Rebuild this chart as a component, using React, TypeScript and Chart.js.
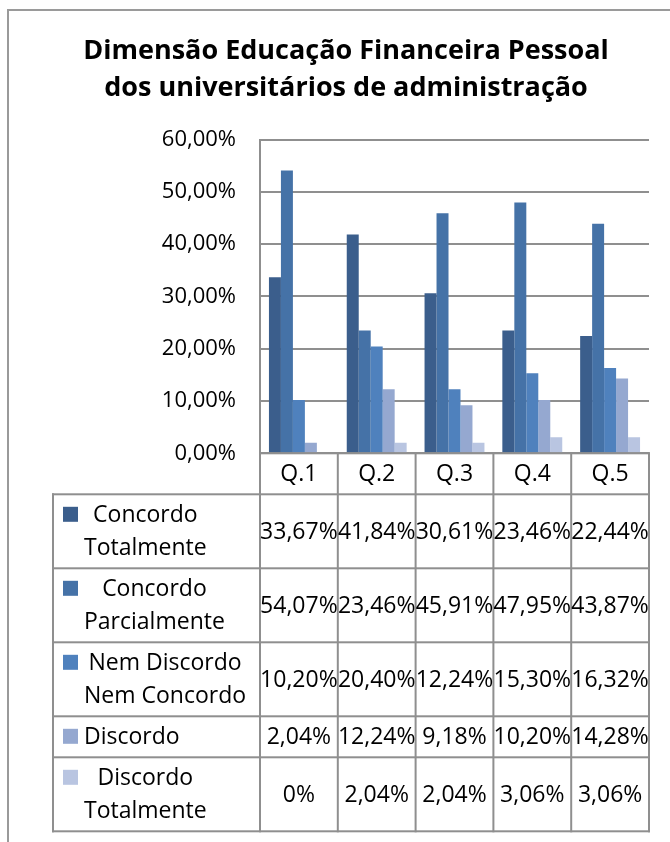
import React, { useEffect, useRef } from 'react';
import { Chart, registerables } from 'chart.js';

Chart.register(...registerables);

const titleLines = ['Dimensão Educação Financeira Pessoal', 'dos universitários de administração'];
const categories = ['Q.1', 'Q.2', 'Q.3', 'Q.4', 'Q.5'];
const seriesLabels = [
  ['Concordo', 'Totalmente'],
  ['Concordo', 'Parcialmente'],
  ['Nem Discordo', 'Nem Concordo'],
  ['Discordo'],
  ['Discordo', 'Totalmente'],
];
const concordoTotalmente = [33.67, 41.84, 30.61, 23.46, 22.44];
const concordoParcialmente = [54.07, 23.46, 45.91, 47.95, 43.87];
const nemDiscordoNemConcordo = [10.2, 20.4, 12.24, 15.3, 16.32];
const discordo = [2.04, 12.24, 9.18, 10.2, 14.28];
const discordoTotalmente = [0, 2.04, 2.04, 3.06, 3.06];
const seriesValues = [concordoTotalmente, concordoParcialmente, nemDiscordoNemConcordo, discordo, discordoTotalmente];
const seriesColors = ['#3B5E8C', '#4572A7', '#4F81BD', '#95A8D0', '#B9C5E1'];
const yMax = 60;
const yStep = 10;

const FONT = '"Open Sans", sans-serif';
const LINE = '#8f8f8f';

const fmtTick = (v: number) => v.toFixed(2).replace('.', ',') + '%';
const fmtCell = (v: number) => (v === 0 ? '0%' : v.toFixed(2).replace('.', ',') + '%');

const tablePlugin = {
  id: 'dataTable',
  afterDraw(chart: any) {
    const ctx: CanvasRenderingContext2D = chart.ctx;
    const xs = chart.scales.x;
    const ys = chart.scales.y;
    const n = categories.length;
    const left = xs.left;
    const right = xs.right;
    const cw = (right - left) / n;
    const bounds: number[] = [];
    for (let i = 0; i <= n; i++) bounds.push(left + i * cw);
    const zeroY = ys.getPixelForValue(0);
    const tableLeft = 53;
    const headerH = 41;
    const lineH = 33;
    const rowTops: number[] = [zeroY, zeroY + headerH];
    seriesLabels.forEach((lbl) => {
      const h = lbl.length === 1 ? 41 : 74;
      rowTops.push(rowTops[rowTops.length - 1] + h);
    });
    const bottom = rowTops[rowTops.length - 1];

    ctx.save();
    // frame
    ctx.fillStyle = '#9a9a9a';
    ctx.fillRect(7, 10, 2, chart.height - 10);
    ctx.fillRect(7, 9, chart.width - 7, 2);

    // title
    ctx.fillStyle = '#000';
    ctx.textAlign = 'center';
    ctx.textBaseline = 'middle';
    ctx.font = `bold 27px ${FONT}`;
    ctx.fillText(titleLines[0], 346, 51);
    ctx.fillText(titleLines[1], 346, 88);

    // table lines
    ctx.fillStyle = LINE;
    ctx.fillRect(left - 1, zeroY - 1, right - left + 2, 2);
    for (let r = 1; r < rowTops.length; r++) {
      ctx.fillRect(tableLeft - 1, rowTops[r] - 1, right - tableLeft + 2, 2);
    }
    ctx.fillRect(tableLeft - 1, rowTops[1] - 1, 2, bottom - rowTops[1] + 2);
    bounds.forEach((bx) => {
      ctx.fillRect(bx - 1, zeroY - 1, 2, bottom - zeroY + 2);
    });

    // header labels
    ctx.fillStyle = '#000';
    ctx.font = `23px ${FONT}`;
    ctx.textAlign = 'center';
    ctx.textBaseline = 'middle';
    categories.forEach((c, i) => {
      ctx.fillText(c, left + (i + 0.5) * cw, zeroY + headerH / 2 + 1);
    });

    // rows
    seriesLabels.forEach((lbl, r) => {
      const top = rowTops[r + 1];
      const bot = rowTops[r + 2];
      const cy = (top + bot) / 2;
      const firstY = cy - ((lbl.length - 1) * lineH) / 2;
      ctx.fillStyle = seriesColors[r];
      ctx.fillRect(63, firstY - 8, 15, 15);
      ctx.fillStyle = '#000';
      const widths = lbl.map((t) => ctx.measureText(t).width);
      const blockW = Math.max(...widths);
      const blockCx = 84 + blockW / 2;
      ctx.textAlign = 'center';
      lbl.forEach((t, k) => {
        ctx.fillText(t, blockCx, firstY + k * lineH + 1);
      });
      seriesValues[r].forEach((v, i) => {
        ctx.fillText(fmtCell(v), left + (i + 0.5) * cw, cy + 1);
      });
    });
    ctx.restore();
  },
};

export default function App() {
  const ref = useRef<HTMLCanvasElement>(null);
  useEffect(() => {
    document.body.style.margin = '0';
    Chart.defaults.font.family = FONT;
    const chart = new Chart(ref.current as HTMLCanvasElement, {
      type: 'bar',
      data: {
        labels: categories,
        datasets: seriesValues.map((vals, i) => ({
          label: seriesLabels[i].join(' '),
          data: vals,
          backgroundColor: seriesColors[i],
          borderWidth: 0,
          barPercentage: 1,
          categoryPercentage: 0.77,
        })),
      },
      options: {
        responsive: false,
        animation: false,
        devicePixelRatio: 1,
        layout: { padding: { top: 139.5, right: 21, bottom: 0, left: 0 } },
        plugins: {
          legend: { display: false },
          title: { display: false },
          tooltip: { enabled: false },
        },
        scales: {
          x: {
            ticks: { display: false },
            grid: { display: false },
            border: { display: false },
            afterFit: (s: any) => {
              s.height = 842 - 453.3;
            },
          },
          y: {
            min: 0,
            max: yMax,
            ticks: {
              stepSize: yStep,
              padding: 24,
              color: '#000',
              font: { size: 22, family: FONT },
              callback: (v: any) => fmtTick(Number(v)),
            },
            grid: { color: LINE, lineWidth: 2, drawTicks: false },
            border: { color: LINE, width: 2 },
            afterFit: (s: any) => {
              s.width = 260;
            },
          },
        },
      },
      plugins: [tablePlugin],
    });
    return () => chart.destroy();
  }, []);
  return <canvas ref={ref} width={670} height={842} style={{ display: 'block' }} />;
}
